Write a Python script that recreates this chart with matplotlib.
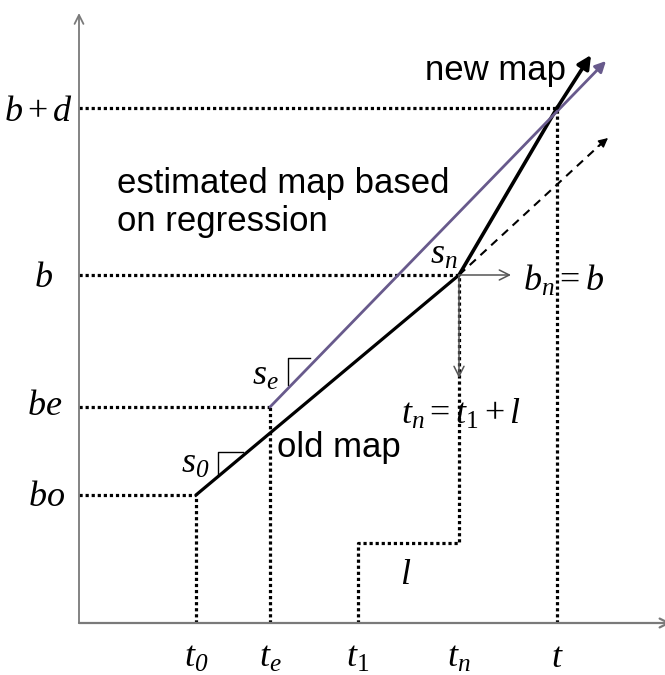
import numpy as np
import matplotlib
matplotlib.use('Agg')
import matplotlib.pyplot as plt

plt.rcParams['mathtext.fontset'] = 'custom'
plt.rcParams['mathtext.it'] = 'Liberation Serif:italic'
plt.rcParams['mathtext.rm'] = 'Liberation Serif'
plt.rcParams['mathtext.bf'] = 'Liberation Serif:bold'
# italic digits (mathtext forces digits upright in 'it')
plt.rcParams['mathtext.sf'] = 'Liberation Serif:italic'

# positions on the time axis and the value axis (diagram units)
t_names = ['t0', 'te', 't1', 'tn', 't']
t_vals = [117, 191, 279, 380, 478]
t_labels = [r'$t_{\mathsf{0}}$', r'$t_e$', r'$t_1$', r'$t_n$', r'$t$']

b_names = ['b0', 'be', 'b', 'bd']
b_vals = [128, 216, 348, 515]
b_labels = [r'$bo$', r'$be$', r'$b$', r'$b+d$']

l_height = 80                 # height of the l step
new_map_tip = [512, 568]      # end of the new map arrow
regr_tip = [527, 562]         # end of the regression arrow
old_ext_tip = [529, 485]      # end of the dashed continuation

T = dict(zip(t_names, t_vals))
B = dict(zip(b_names, b_vals))

black = '#000000'
purple = '#685a8c'
gray = '#7a7a7a'

fig = plt.figure(figsize=(6.65, 6.75), dpi=100)
ax = fig.add_axes([0, 0, 1, 1])
ax.set_xlim(-79, 586)
ax.set_ylim(-52, 623)
ax.axis('off')

# axes with arrows
ax.annotate('', xy=(0, 610), xytext=(0, 0),
            arrowprops=dict(arrowstyle='->', color=gray, lw=1.3, shrinkA=0, shrinkB=0,
                            mutation_scale=16))
ax.annotate('', xy=(592, 0), xytext=(0, 0),
            arrowprops=dict(arrowstyle='->', color=gray, lw=1.6, shrinkA=0, shrinkB=0,
                            mutation_scale=16), annotation_clip=False)

dot = dict(color=black, lw=2.3, ls=(0, (1, 0.9)))

# horizontal guides
ax.plot([0, T['t0']], [B['b0'], B['b0']], **dot)
ax.plot([0, T['te']], [B['be'], B['be']], **dot)
ax.plot([0, T['tn']], [B['b'], B['b']], **dot)
ax.plot([0, T['t']], [B['bd'], B['bd']], **dot)

# vertical guides
ax.plot([T['t0'], T['t0']], [0, B['b0']], **dot)
ax.plot([T['te'], T['te']], [0, B['be']], **dot)
ax.plot([T['t'], T['t']], [0, B['bd']], **dot)
# l step
ax.plot([T['t1'], T['t1'], T['tn'], T['tn']], [0, l_height, l_height, B['b']], **dot)

# old map
ax.plot([T['t0'], T['tn']], [B['b0'], B['b']], color=black, lw=2.3, solid_capstyle='round')

# dashed continuation of the old map
ax.plot([T['tn'], old_ext_tip[0] - 6], [B['b'], old_ext_tip[1] - 5], color=black, lw=1.5,
        ls=(0, (4, 3)))
ax.annotate('', xy=old_ext_tip, xytext=(old_ext_tip[0] - 10, old_ext_tip[1] - 8.4),
            arrowprops=dict(arrowstyle='-|>', color=black, lw=1.0, shrinkA=0, shrinkB=0,
                            mutation_scale=14))

# regression line
ax.annotate('', xy=regr_tip, xytext=(T['te'], B['be']),
            arrowprops=dict(arrowstyle='-|>', color=purple, lw=2.0, shrinkA=0, shrinkB=0,
                            mutation_scale=16))

# new map
ax.plot([T['tn'], T['t']], [B['b'], B['bd']], color=black, lw=2.6)
ax.annotate('', xy=new_map_tip, xytext=(T['t'], B['bd']),
            arrowprops=dict(arrowstyle='-|>', color=black, lw=2.6, shrinkA=0, shrinkB=0,
                            mutation_scale=20))

# thin arrows from the break point
ax.annotate('', xy=(T['tn'] + 52, B['b']), xytext=(T['tn'], B['b']),
            arrowprops=dict(arrowstyle='->', color='#555555', lw=1.1, shrinkA=0, shrinkB=0,
                            mutation_scale=18))
ax.annotate('', xy=(T['tn'], B['b'] - 103), xytext=(T['tn'], B['b']),
            arrowprops=dict(arrowstyle='->', color='#555555', lw=1.1, shrinkA=0, shrinkB=0,
                            mutation_scale=18))

# slope corners
ax.plot([139, 139, 164], [147, 171, 171], color=black, lw=1.0)
ax.plot([209, 209, 231], [238, 265, 265], color=black, lw=1.0)

# labels
mfs = 26
for x, lab in zip(t_vals, t_labels):
    ax.text(x, -34, lab, fontsize=mfs, ha='center', va='center')
ax.text(-32, B['b0'] - 1, b_labels[0], fontsize=mfs, ha='center', va='center')
ax.text(-34, B['be'] + 2, b_labels[1], fontsize=mfs, ha='center', va='center')
ax.text(-36, B['b'] - 2, b_labels[2], fontsize=mfs, ha='center', va='center')
ax.text(-6, B['bd'] - 3, b_labels[3], fontsize=mfs, ha='right', va='center')

ax.text(365, 369, r'$s_n$', fontsize=mfs, ha='center', va='center')
ax.text(186, 248, r'$s_e$', fontsize=mfs, ha='center', va='center')
ax.text(116, 160, r'$s_{\mathsf{0}}$', fontsize=mfs, ha='center', va='center')
ax.text(444, 343, r'$b_n = b$', fontsize=mfs, ha='left', va='center')
ax.text(322, 209, r'$t_n = t_1+l$', fontsize=mfs, ha='left', va='center')
ax.text(327, 49, r'$l$', fontsize=mfs, ha='center', va='center')

sfs = 25
ax.text(487, 543, 'new map', fontsize=sfs, family='Liberation Sans', ha='right', va='baseline')
ax.text(38, 430, 'estimated map based', fontsize=sfs, family='Liberation Sans',
        ha='left', va='baseline')
ax.text(38, 392, 'on regression', fontsize=sfs, family='Liberation Sans',
        ha='left', va='baseline')
ax.text(198, 166, 'old map', fontsize=sfs, family='Liberation Sans', ha='left', va='baseline')

fig.savefig('out.png', dpi=100)
